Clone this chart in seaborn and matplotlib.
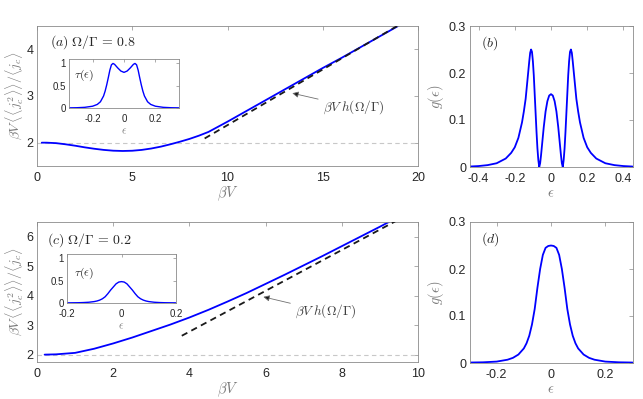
import numpy as np
import pandas as pd
import matplotlib
matplotlib.use("Agg")
import matplotlib.pyplot as plt
import seaborn as sns
from matplotlib.ticker import FuncFormatter

# ---------------- data ----------------
# panel (a): Omega/Gamma = 0.8
bv_a = [0.25, 0.5, 1, 1.5, 2, 2.5, 3, 3.5, 4, 4.5, 5, 5.5, 6, 6.5, 7, 7.5, 8, 8.5,
        9, 9.5, 10, 11, 12, 13, 14, 15, 16, 17, 18, 19, 19.5]
fano_a = [2.0, 2.0, 1.99, 1.965, 1.935, 1.9, 1.87, 1.845, 1.828, 1.822, 1.827, 1.845,
          1.875, 1.915, 1.965, 2.02, 2.08, 2.15, 2.23, 2.34, 2.45, 2.68, 2.91, 3.14,
          3.37, 3.6, 3.82, 4.05, 4.28, 4.51, 4.63]
asym_a_bv = [8.8, 19.2]
asym_a_val = [2.09, 4.57]

# inset (a): transmission
eps_tau_a = [-0.35, -0.3, -0.25, -0.2, -0.17, -0.15, -0.13, -0.12, -0.11, -0.10,
             -0.09, -0.08, -0.07, -0.06, -0.04, -0.02, 0, 0.02, 0.04, 0.06, 0.07,
             0.08, 0.09, 0.10, 0.11, 0.12, 0.13, 0.15, 0.17, 0.2, 0.25, 0.3, 0.35]
tau_a = [0.003, 0.006, 0.015, 0.04, 0.08, 0.14, 0.27, 0.38, 0.52, 0.68, 0.85, 0.97,
         1.0, 0.98, 0.9, 0.83, 0.8, 0.83, 0.9, 0.98, 1.0, 0.97, 0.85, 0.68, 0.52,
         0.38, 0.27, 0.14, 0.08, 0.04, 0.015, 0.006, 0.003]

# panel (b)
eps_b = [-0.45, -0.4, -0.35, -0.3, -0.25, -0.22, -0.2, -0.18, -0.16, -0.15, -0.14,
         -0.13, -0.12, -0.115, -0.11, -0.105, -0.10, -0.095, -0.09, -0.085, -0.08,
         -0.075, -0.07, -0.065, -0.06, -0.055, -0.05, -0.04, -0.03, -0.02, -0.01, 0,
         0.01, 0.02, 0.03, 0.04, 0.05, 0.055, 0.06, 0.065, 0.07, 0.075, 0.08, 0.085,
         0.09, 0.095, 0.10, 0.105, 0.11, 0.115, 0.12, 0.13, 0.14, 0.15, 0.16, 0.18,
         0.2, 0.22, 0.25, 0.3, 0.35, 0.4, 0.45]
g_b = [0.001, 0.002, 0.004, 0.008, 0.018, 0.03, 0.042, 0.062, 0.095, 0.118, 0.145,
       0.185, 0.225, 0.243, 0.25, 0.245, 0.225, 0.195, 0.155, 0.115, 0.075, 0.04,
       0.015, 0.0, 0.008, 0.025, 0.045, 0.085, 0.118, 0.14, 0.152, 0.155,
       0.152, 0.14, 0.118, 0.085, 0.045, 0.025, 0.008, 0.0, 0.015, 0.04, 0.075, 0.115,
       0.155, 0.195, 0.225, 0.245, 0.25, 0.243, 0.225, 0.185, 0.145, 0.118, 0.095,
       0.062, 0.042, 0.03, 0.018, 0.008, 0.004, 0.002, 0.001]

# panel (c): Omega/Gamma = 0.2
bv_c = [0.2, 0.5, 1, 1.5, 2, 2.5, 3, 3.5, 4, 4.5, 5, 5.5, 6, 6.5, 7, 7.5, 8, 8.5, 9, 9.5]
fano_c = [2.0, 2.01, 2.06, 2.2, 2.38, 2.58, 2.8, 3.02, 3.26, 3.52, 3.8, 4.09, 4.4,
          4.71, 5.03, 5.35, 5.68, 6.01, 6.34, 6.68]
asym_c_bv = [3.8, 9.4]
asym_c_val = [2.64, 6.52]

# inset (c)
eps_tau_c = [-0.2, -0.16, -0.14, -0.12, -0.1, -0.09, -0.08, -0.07, -0.06, -0.05, -0.04,
             -0.03, -0.02, -0.01, 0, 0.01, 0.02, 0.03, 0.04, 0.05, 0.06, 0.07, 0.08,
             0.09, 0.1, 0.12, 0.14, 0.16, 0.2]
tau_c = [0.003, 0.006, 0.01, 0.017, 0.032, 0.045, 0.065, 0.095, 0.14, 0.21, 0.29,
         0.36, 0.43, 0.47, 0.48, 0.47, 0.43, 0.36, 0.29, 0.21, 0.14, 0.095, 0.065,
         0.045, 0.032, 0.017, 0.01, 0.006, 0.003]

# panel (d)
eps_d = [-0.3, -0.25, -0.2, -0.16, -0.14, -0.12, -0.1, -0.09, -0.08, -0.07, -0.06,
         -0.05, -0.04, -0.03, -0.02, -0.01, 0, 0.01, 0.02, 0.03, 0.04, 0.05, 0.06,
         0.07, 0.08, 0.09, 0.1, 0.12, 0.14, 0.16, 0.2, 0.25, 0.3]
g_d = [0.001, 0.0015, 0.003, 0.007, 0.011, 0.018, 0.031, 0.042, 0.058, 0.082, 0.115,
       0.16, 0.2, 0.23, 0.245, 0.249, 0.25, 0.249, 0.245, 0.23, 0.2, 0.16, 0.115,
       0.082, 0.058, 0.042, 0.031, 0.018, 0.011, 0.007, 0.003, 0.0015, 0.001]

ref_level = [2.0]

# ---------------- style ----------------
sns.set_theme(style="white")
plt.rcParams["font.family"] = ["Liberation Sans", "DejaVu Sans"]
plt.rcParams["mathtext.fontset"] = "cm"
plt.rcParams["axes.unicode_minus"] = False

BLUE = "#0000FF"
SPINE = "#8a8a8a"
TICKC = "#262626"
LABC = "#7a7a7a"
LW = 1.3

fig = plt.figure(figsize=(6.43, 3.99), dpi=100)
W, H = 643, 399


def px_axes(l, t, r, b):
    return fig.add_axes([l / W, (H - b) / H, (r - l) / W, (b - t) / H])


fmt = FuncFormatter(lambda v, p: "%g" % round(v, 6))


def style(ax, fs=8, xpad=4, ypad=2.5):
    for s in ax.spines.values():
        s.set_color(SPINE)
        s.set_linewidth(0.6)
    ax.tick_params(direction="in", top=True, right=True, length=3, width=0.5,
                   color=SPINE, labelsize=fs, labelcolor=TICKC)
    ax.tick_params(axis="x", pad=xpad)
    ax.tick_params(axis="y", pad=ypad)
    ax.xaxis.set_major_formatter(fmt)
    ax.yaxis.set_major_formatter(fmt)


ax_a = px_axes(37, 26, 418, 166)
ax_b = px_axes(469.5, 26, 632.5, 167)
ax_c = px_axes(37, 222, 418, 362)
ax_d = px_axes(469.5, 222, 632.5, 363)
in_a = px_axes(69, 59, 179, 108)
in_c = px_axes(67, 254, 176, 303)

ylab = r"$\beta V\,\langle\langle j_c^2\rangle\rangle/\langle j_c\rangle$"
hlab = r"$\beta V\;h(\Omega/\Gamma)$"
arrow_kw = dict(arrowstyle="-|>", fc="k", ec="#707070", lw=0.6,
                mutation_scale=9, shrinkA=1, shrinkB=0)

# ---- (a)
ax_a.axhline(ref_level[0], color="#c8c8c8", ls=(0, (4, 3)), lw=0.8, zorder=1)
sns.lineplot(x=bv_a, y=fano_a, ax=ax_a, color=BLUE, lw=LW, zorder=2)
sns.lineplot(x=asym_a_bv, y=asym_a_val, ax=ax_a, color="k", lw=1.3, zorder=3,
             linestyle=(0, (3.5, 2.5)))
ax_a.set_xlim(0, 20)
ax_a.set_ylim(1.5, 4.5)
ax_a.set_xticks([0, 5, 10, 15, 20])
ax_a.set_yticks([2, 3, 4])
style(ax_a, 9)
ax_a.set_xlabel(r"$\beta V$", fontsize=10.5, color=LABC, labelpad=1)
ax_a.set_ylabel(ylab, fontsize=10, color=LABC, labelpad=1)
ax_a.text(0.034, 0.885, r"$(a)\;\Omega/\Gamma\,=\,0.8$", transform=ax_a.transAxes,
          fontsize=10, color="#262626", va="center", ha="left")
ax_a.annotate(hlab, xy=(13.4, 3.06), xytext=(15.0, 2.76),
              fontsize=9.5, color="#404040", va="center", ha="left",
              arrowprops=arrow_kw)

# ---- inset (a)
sns.lineplot(x=eps_tau_a, y=tau_a, ax=in_a, color=BLUE, lw=1.0)
in_a.set_xlim(-0.35, 0.35)
in_a.set_ylim(0, 1.1)
in_a.set_xticks([-0.2, 0, 0.2])
in_a.set_yticks([0, 0.5, 1])
style(in_a, 7, xpad=4.5, ypad=2.5)
in_a.tick_params(length=2)
in_a.set_xlabel(r"$\epsilon$", fontsize=8, color=LABC, labelpad=1.5)
in_a.text(0.05, 0.67, r"$\tau(\epsilon)$", transform=in_a.transAxes, fontsize=8.5,
          color="#262626", va="center")

# ---- (b)
sns.lineplot(x=eps_b, y=g_b, ax=ax_b, color=BLUE, lw=LW, sort=False)
ax_b.set_xlim(-0.45, 0.45)
ax_b.set_ylim(0, 0.3)
ax_b.set_xticks([-0.4, -0.2, 0, 0.2, 0.4])
ax_b.set_yticks([0, 0.1, 0.2, 0.3])
style(ax_b, 9)
ax_b.set_xlabel(r"$\epsilon$", fontsize=10.5, color=LABC, labelpad=1)
ax_b.set_ylabel(r"$g(\epsilon)$", fontsize=10.5, color=LABC, labelpad=2)
ax_b.text(0.07, 0.88, r"$(b)$", transform=ax_b.transAxes, fontsize=10,
          color="#262626", va="center")

# ---- (c)
ax_c.axhline(ref_level[0], color="#c8c8c8", ls=(0, (4, 3)), lw=0.8, zorder=1)
sns.lineplot(x=bv_c, y=fano_c, ax=ax_c, color=BLUE, lw=LW, zorder=2)
sns.lineplot(x=asym_c_bv, y=asym_c_val, ax=ax_c, color="k", lw=1.3, zorder=3,
             linestyle=(0, (3.5, 2.5)))
ax_c.set_xlim(0, 10)
ax_c.set_ylim(1.75, 6.5)
ax_c.set_xticks([0, 2, 4, 6, 8, 10])
ax_c.set_yticks([2, 3, 4, 5, 6])
style(ax_c, 9)
ax_c.set_xlabel(r"$\beta V$", fontsize=10.5, color=LABC, labelpad=1)
ax_c.set_ylabel(ylab, fontsize=10, color=LABC, labelpad=1)
ax_c.text(0.026, 0.87, r"$(c)\;\Omega/\Gamma\,=\,0.2$", transform=ax_c.transAxes,
          fontsize=10, color="#262626", va="center", ha="left")
ax_c.annotate(hlab, xy=(5.94, 3.96), xytext=(6.77, 3.46),
              fontsize=9.5, color="#404040", va="center", ha="left",
              arrowprops=arrow_kw)

# ---- inset (c)
sns.lineplot(x=eps_tau_c, y=tau_c, ax=in_c, color=BLUE, lw=1.0)
in_c.set_xlim(-0.2, 0.2)
in_c.set_ylim(0, 1.1)
in_c.set_xticks([-0.2, 0, 0.2])
in_c.set_yticks([0, 0.5, 1])
style(in_c, 7, xpad=4.5, ypad=2.5)
in_c.tick_params(length=2)
in_c.set_xlabel(r"$\epsilon$", fontsize=8, color=LABC, labelpad=1.5)
in_c.text(0.06, 0.61, r"$\tau(\epsilon)$", transform=in_c.transAxes, fontsize=8.5,
          color="#262626", va="center")

# ---- (d)
sns.lineplot(x=eps_d, y=g_d, ax=ax_d, color=BLUE, lw=LW)
ax_d.set_xlim(-0.3, 0.3)
ax_d.set_ylim(0, 0.3)
ax_d.set_xticks([-0.2, 0, 0.2])
ax_d.set_yticks([0, 0.1, 0.2, 0.3])
style(ax_d, 9)
ax_d.set_xlabel(r"$\epsilon$", fontsize=10.5, color=LABC, labelpad=1)
ax_d.set_ylabel(r"$g(\epsilon)$", fontsize=10.5, color=LABC, labelpad=2)
ax_d.text(0.07, 0.88, r"$(d)$", transform=ax_d.transAxes, fontsize=10,
          color="#262626", va="center")

fig.savefig("out.png", dpi=100)
